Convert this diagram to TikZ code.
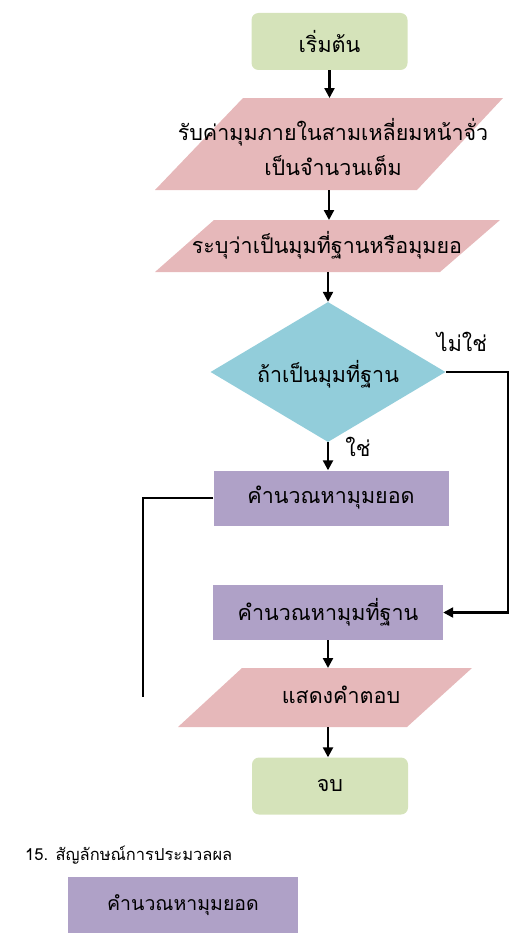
\documentclass[tikz,border=0pt]{standalone}
\usepackage{fontspec}
\newfontfamily\thai[Script=Thai]{Loma}
\usetikzlibrary{shapes.geometric,arrows.meta}
\definecolor{cgreen}{HTML}{D5E3BA}
\definecolor{cpink}{HTML}{E6B8BA}
\definecolor{cblue}{HTML}{92CDDA}
\definecolor{cpurple}{HTML}{AFA1C7}
\begin{document}
\begin{tikzpicture}[x=1pt,y=-1pt,
  every node/.style={font=\thai\fontsize{21.5}{30}\selectfont, text=black},
  term/.style={fill=cgreen, rounded corners=7pt, minimum width=156pt, minimum height=57pt, inner sep=0pt},
  proc/.style={fill=cpurple, minimum height=55pt, inner sep=0pt},
  dec/.style={diamond, fill=cblue, minimum width=235pt, minimum height=140pt, inner sep=0pt},
  txt/.style={inner sep=0pt},
  parafill/.style={fill=cpink},
  conn/.style={line width=2.3pt, black},
  arr/.style={conn, -{Triangle[length=10pt,width=10pt]}}]
\useasboundingbox (0,0) rectangle (519,942);
% parallelograms
\fill[parafill] (243,98) -- (503,98) -- (417,190) -- (155,190) -- cycle;
\coordinate (p1n) at (329,98); \coordinate (p1s) at (329,190);
\fill[parafill] (214,220) -- (500,220) -- (440,272) -- (155,272) -- cycle;
\coordinate (p2n) at (329,220); \coordinate (p2s) at (328,272);
\fill[parafill] (242,668) -- (472,668) -- (407,727) -- (178,727) -- cycle;
\coordinate (p3n) at (328,668); \coordinate (p3s) at (328,727);
\node[term] (start) at (329.5,41.5) {เริ่มต้น};
\node[txt, align=center] (p1t) at (333,147) {รับค่ามุมภายในสามเหลี่ยมหน้าจั่ว\\[5pt]เป็นจำนวนเต็ม};
\node[txt] (p2t) at (327,245) {ระบุว่าเป็นมุมที่ฐานหรือมุมยอ};
\node[dec] (d) at (328,372) {};
\node[txt] (dt) at (328,374) {ถ้าเป็นมุมที่ฐาน};
\node[txt] (no) at (462,342) {ไม่ใช่};
\node[txt] (yes) at (358,447) {ใช่};
\node[proc, minimum width=235pt] (b1) at (331,498) {คำนวณหามุมยอด};
\node[proc, minimum width=230pt] (b2) at (328,612.5) {คำนวณหามุมที่ฐาน};
\node[txt] (p3t) at (341,695) {แสดงคำตอบ};
\node[term] (end) at (330,786) {จบ};
\node[txt, anchor=west, font=\thai\fontsize{16.5}{21}\selectfont] (cap) at (25,855) {15. สัญลักษณ์การประมวลผล};
\node[proc, minimum width=230pt, minimum height=56pt, font=\thai\fontsize{19.5}{24}\selectfont] (leg) at (183,905) {คำนวณหามุมยอด};
\coordinate (rc) at (508,372);
\coordinate (lend) at (143,697);
\draw[arr] (start.south) -- (start.south |- p1n);
\draw[arr] (p1s) -- (p2n);
\draw[arr] (p2s) -- (p2s |- d.north);
\draw[arr] (d.south) -- (d.south |- b1.north);
\draw[arr] (d.east) -- (rc) |- (b2.east);
\draw[conn] (b1.west) -| (lend);
\draw[arr] (b2.south) -- (p3n);
\draw[arr] (p3s) -- (p3s |- end.north);
\end{tikzpicture}
\end{document}
